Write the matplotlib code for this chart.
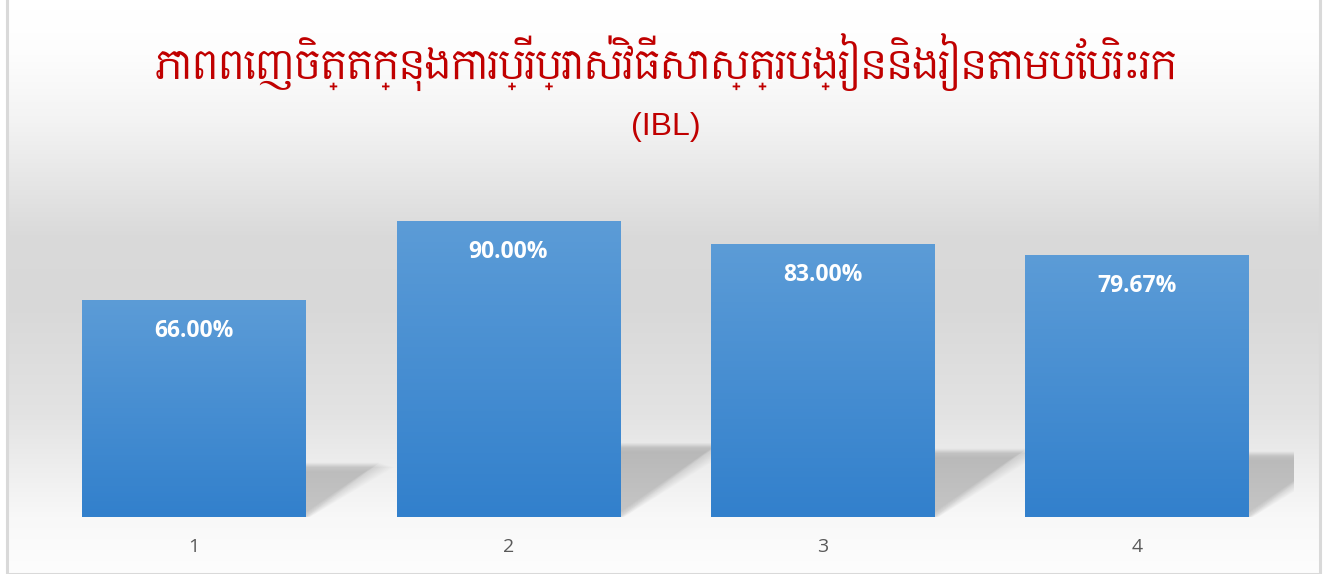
import numpy as np
import matplotlib
matplotlib.use("Agg")
import matplotlib.pyplot as plt
from matplotlib.patches import Polygon, Rectangle
from matplotlib.colors import LinearSegmentedColormap

# Data
CATEGORIES = ["1", "2", "3", "4"]
VALUES = [66.00, 90.00, 83.00, 79.67]
TITLE_KM = "ភាពពេញចិត្តក្នុងការប្រើប្រាស់វិធីសាស្ត្របង្រៀននិងរៀនតាមបែបរិះរក"
TITLE_SUB = "(IBL)"

TITLE_COLOR = "#c00000"
BAR_TOP = "#5c9cd7"
BAR_BOTTOM = "#3280cc"
KHMER_FONTS = ["Content", "Hanuman", "Battambang", "Noto Sans Khmer", "DejaVu Sans"]

W, H = 1331, 574
fig = plt.figure(figsize=(W / 100, H / 100), dpi=100)
fig.patch.set_facecolor("white")

# Fundal in degrade (alb -> gri -> alb), cu chenar gri
bg = fig.add_axes([7 / W, 0, (1320 - 7) / W, (H - 9) / H])
bg.set_zorder(-10)
bg_cmap = LinearSegmentedColormap.from_list(
    "bg",
    [(0.0, "#ffffff"), (0.08, "#fdfdfd"), (0.20, "#f3f3f3"),
     (0.40, "#dadada"), (0.52, "#d8d8d8"), (0.72, "#e3e3e3"),
     (0.90, "#f8f8f8"), (1.0, "#fdfdfd")],
)
grad = np.linspace(0, 1, 256).reshape(-1, 1)
bg.imshow(grad, cmap=bg_cmap, aspect="auto", extent=[0, 1, 0, 1], origin="upper")
bg.set_xlim(0, 1)
bg.set_ylim(0, 1)
bg.axis("off")
bg.add_patch(Rectangle((0, 0), 1, 1.2, transform=bg.transAxes, fill=False,
                       edgecolor="#d9d9d9", linewidth=2.2, clip_on=False))

# Axa principala
ax = fig.add_axes([37 / W, 1 - 517 / H, (1294 - 37) / W, 329 / H])
ax.set_facecolor("none")
x = np.arange(len(CATEGORIES))
width = 0.712

bars = ax.bar(x, VALUES, width=width, color=BAR_BOTTOM, zorder=3)

# Umbra in perspectiva (blur aproximat prin straturi suprapuse)
px_x = 314.5  # pixeli pe unitate x
px_y = 3.29   # pixeli pe unitate y
for b in bars:
    x0 = b.get_x()
    x1 = x0 + b.get_width()
    h = b.get_height()
    dx = 0.34 * h * px_y / px_x
    dy = 0.25 * h
    for k in range(10):
        ex = k * 1.6 / px_x
        ey = k * 1.6 / px_y
        poly = Polygon(
            [(x0, 0), (x1 + ex * 0.3, 0), (x1 + dx + ex, dy - ey * 0.3),
             (x0 + dx, dy - ey * 0.3)],
            closed=True, facecolor="black", edgecolor="none",
            alpha=0.011, zorder=1,
        )
        ax.add_patch(poly)
        poly2 = Polygon(
            [(x0, 0), (x1 - ex * 0.5, 0), (x1 + dx - ex, dy - ey * 0.6),
             (x0 + dx, dy - ey * 0.6)],
            closed=True, facecolor="black", edgecolor="none",
            alpha=0.008, zorder=1,
        )
        ax.add_patch(poly2)

# Gradient pe bare
bar_cmap = LinearSegmentedColormap.from_list("bar", [BAR_BOTTOM, BAR_TOP])
vgrad = np.linspace(0, 1, 256).reshape(-1, 1)
for b in bars:
    x0 = b.get_x()
    im = ax.imshow(vgrad, cmap=bar_cmap, aspect="auto", origin="lower",
                   extent=[x0, x0 + b.get_width(), 0, b.get_height()], zorder=4)
    im.set_clip_path(b)

ax.set_xlim(-0.5, len(CATEGORIES) - 0.5)
ax.set_ylim(0, 100)

# Etichete de valoare
for xi, v in zip(x, VALUES):
    ax.text(xi, v - 31 / px_y, f"{v:.2f}%", ha="center", va="center",
            color="white", fontsize=16.5, fontweight="bold",
            family="Open Sans", zorder=6)

ax.set_xticks(x)
ax.set_xticklabels(CATEGORIES, fontsize=14, color="#595959", family="Open Sans")
ax.tick_params(axis="x", length=0, pad=15)
ax.set_yticks([])
for s in ax.spines.values():
    s.set_visible(False)

# Titlu
fig.text(666 / W, 1 - 62 / H, TITLE_KM, ha="center", va="center",
         color=TITLE_COLOR, fontsize=27.5, family=KHMER_FONTS)
fig.text(666 / W, 1 - 127 / H, TITLE_SUB, ha="center", va="center",
         color=TITLE_COLOR, fontsize=23, family="Liberation Sans")

fig.savefig("out.png", dpi=100)
